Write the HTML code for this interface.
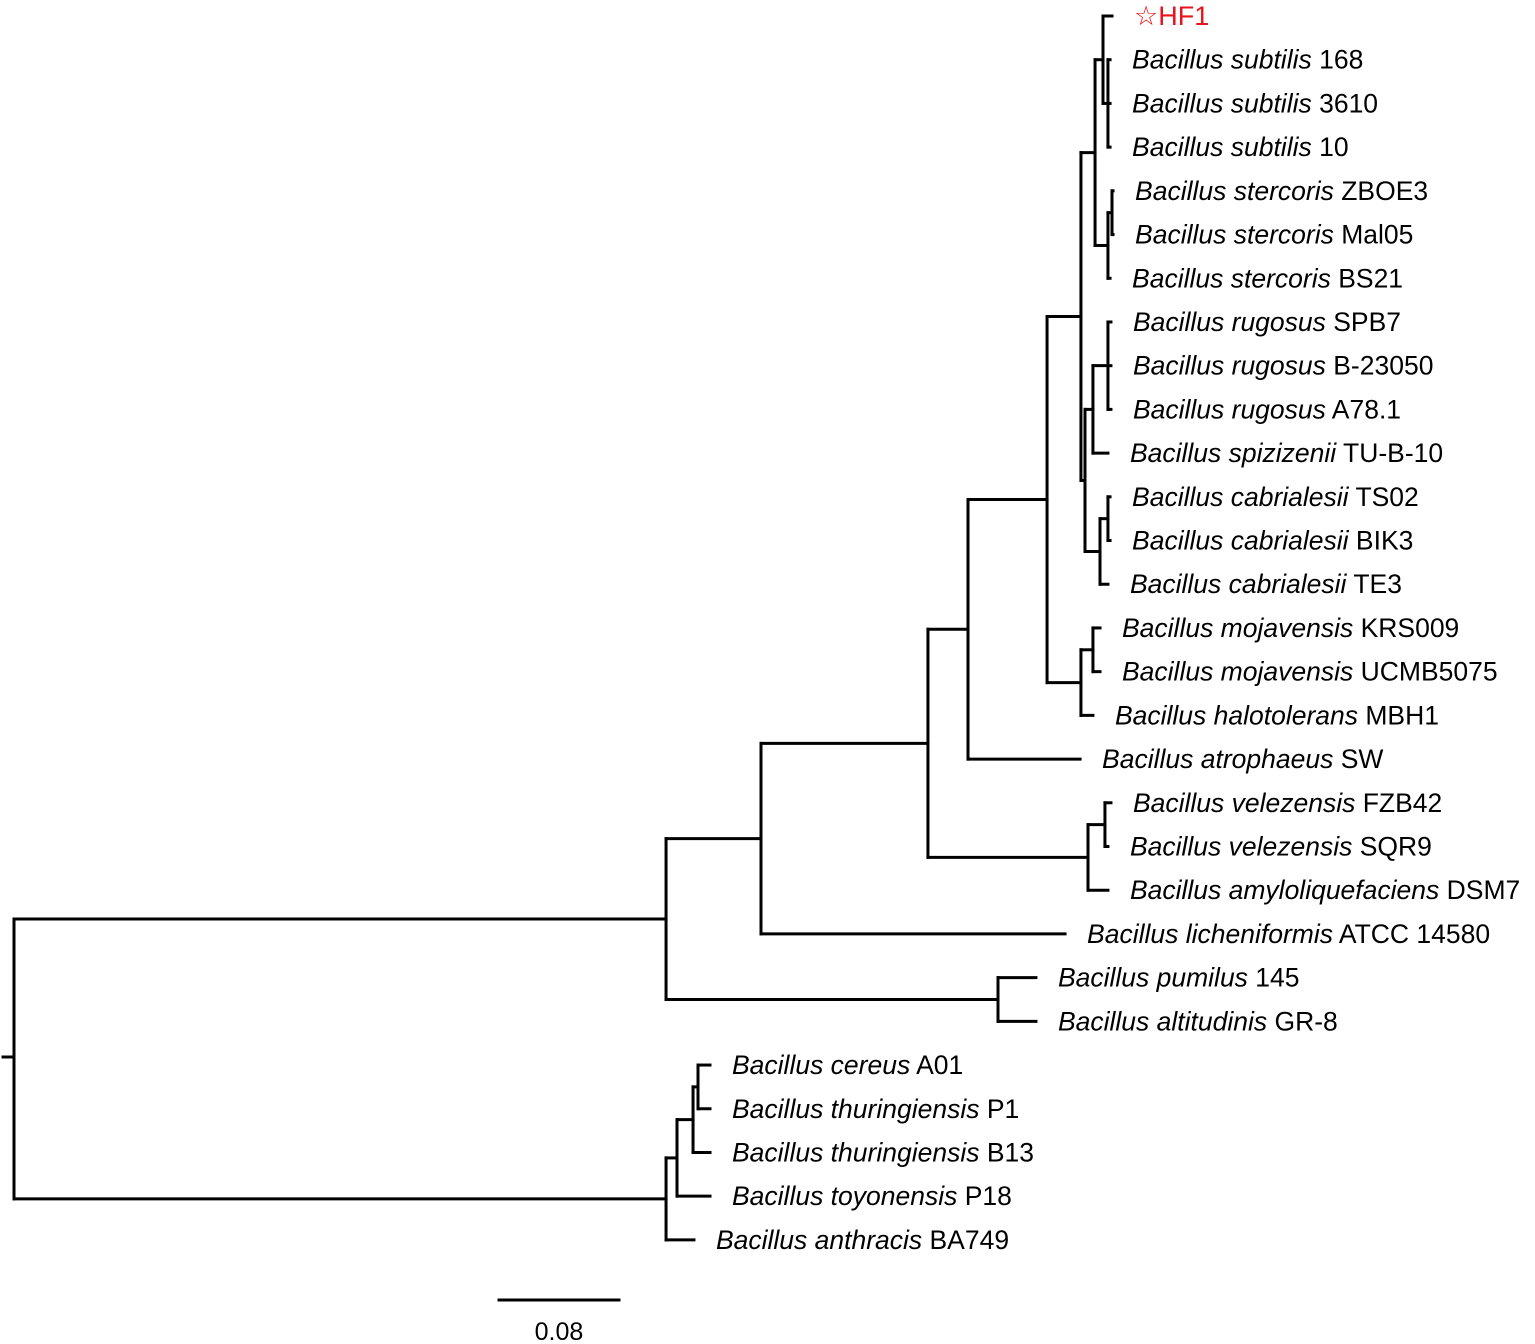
<!DOCTYPE html>
<html><head><meta charset="utf-8"><style>
html,body{margin:0;padding:0;background:#fff;}
svg{display:block;font-family:"Liberation Sans",Arial,sans-serif;}
</style></head><body>
<svg id="tree" width="1535" height="1344" viewBox="0 0 1535 1344" xmlns="http://www.w3.org/2000/svg"></svg>
<script>
// Leaf order (top to bottom)
const leafSpecies = ["","Bacillus subtilis","Bacillus subtilis","Bacillus subtilis","Bacillus stercoris","Bacillus stercoris","Bacillus stercoris","Bacillus rugosus","Bacillus rugosus","Bacillus rugosus","Bacillus spizizenii","Bacillus cabrialesii","Bacillus cabrialesii","Bacillus cabrialesii","Bacillus mojavensis","Bacillus mojavensis","Bacillus halotolerans","Bacillus atrophaeus","Bacillus velezensis","Bacillus velezensis","Bacillus amyloliquefaciens","Bacillus licheniformis","Bacillus pumilus","Bacillus altitudinis","Bacillus cereus","Bacillus thuringiensis","Bacillus thuringiensis","Bacillus toyonensis","Bacillus anthracis"];
const leafStrain = ["HF1","168","3610","10","ZBOE3","Mal05","BS21","SPB7","B-23050","A78.1","TU-B-10","TS02","BIK3","TE3","KRS009","UCMB5075","MBH1","SW","FZB42","SQR9","DSM7","ATCC 14580","145","GR-8","A01","P1","B13","P18","BA749"];
// Tree: [cumulative depth (substitutions/site), children] ; leaves: [depth, leafIndex]
const tree = [0,[
 [0.4347,[
  [0.498,[
   [0.6093,[
    [0.636,[
     [0.6887,[
      [0.7113,[
       [0.7207,[
        [0.726,[[0.732,0],[0.7293,[[0.7307,1],[0.7307,2],[0.7307,3]]]]],
        [0.7293,[[0.732,[[0.7327,4],[0.7327,5]]],[0.7307,6]]]
       ]],
       [0.714,[
        [0.7193,[[0.7293,[[0.7313,7],[0.7313,8],[0.7313,9]]],[0.7293,10]]],
        [0.724,[[0.7293,[[0.7307,11],[0.7307,12]]],[0.7293,13]]]
       ]]
      ]],
      [0.7113,[[0.7193,[[0.724,14],[0.724,15]]],[0.7193,16]]]
     ]],
     [0.7107,17]
    ]],
    [0.716,[[0.7273,[[0.7313,18],[0.7293,19]]],[0.7293,20]]]
   ]],
   [0.7007,21]
  ]],
  [0.656,[[0.6813,22],[0.6813,23]]]
 ]],
 [0.4347,[
  [0.442,[[0.4527,[[0.456,[[0.464,24],[0.464,25]]],[0.464,26]]],[0.464,27]]],
  [0.4533,28]
 ]]
]];
const scaleValue = 0.08;

const svg=document.getElementById('tree');
const NS='http://www.w3.org/2000/svg';
const X0=14, PX=1500, Y0=16, DY=43.71;
const xs=d=>X0+d*PX, ys=i=>Y0+i*DY;
function line(x1,y1,x2,y2,name){
 const l=document.createElementNS(NS,'line');
 l.setAttribute('x1',x1);l.setAttribute('y1',y1);l.setAttribute('x2',x2);l.setAttribute('y2',y2);
 l.setAttribute('stroke','#000');l.setAttribute('stroke-width','3');l.setAttribute('stroke-linecap','square');
 
 
 svg.appendChild(l);
}
function draw(node){
 const x=xs(node[0]);
 if(!Array.isArray(node[1])){
  const i=node[1], y=ys(i);
  const t=document.createElementNS(NS,'text');
  t.setAttribute('x',x+22);t.setAttribute('y',y+9);t.setAttribute('font-size','26.5');
  
  
  if(i===0){t.setAttribute('fill','#e8141b');t.setAttribute('font-size','27');t.textContent='☆'+leafStrain[i];}
  else{
   const s=document.createElementNS(NS,'tspan');s.setAttribute('font-style','italic');s.textContent=leafSpecies[i];
   t.appendChild(s);t.appendChild(document.createTextNode(' '+leafStrain[i]));
  }
  svg.appendChild(t);
  return y;
 }
 const cy=node[1].map(c=>{const y=draw(c);line(x,y,xs(c[0]),y,'branch');return y;});
 const y1=cy[0], y2=cy[cy.length-1];
 line(x,y1,x,y2,'node-vertical');
 return (y1+y2)/2;
}
const ry=draw(tree);
line(3,1057,X0,1057,'root-stub');
// scale bar
line(499,1300,499+scaleValue*PX,1300,'scale-bar');
const st=document.createElementNS(NS,'text');
st.setAttribute('x',499+scaleValue*PX/2);st.setAttribute('y',1340);st.setAttribute('font-size','25');st.setAttribute('text-anchor','middle');


st.textContent=String(scaleValue);svg.appendChild(st);
</script>
</body></html>
